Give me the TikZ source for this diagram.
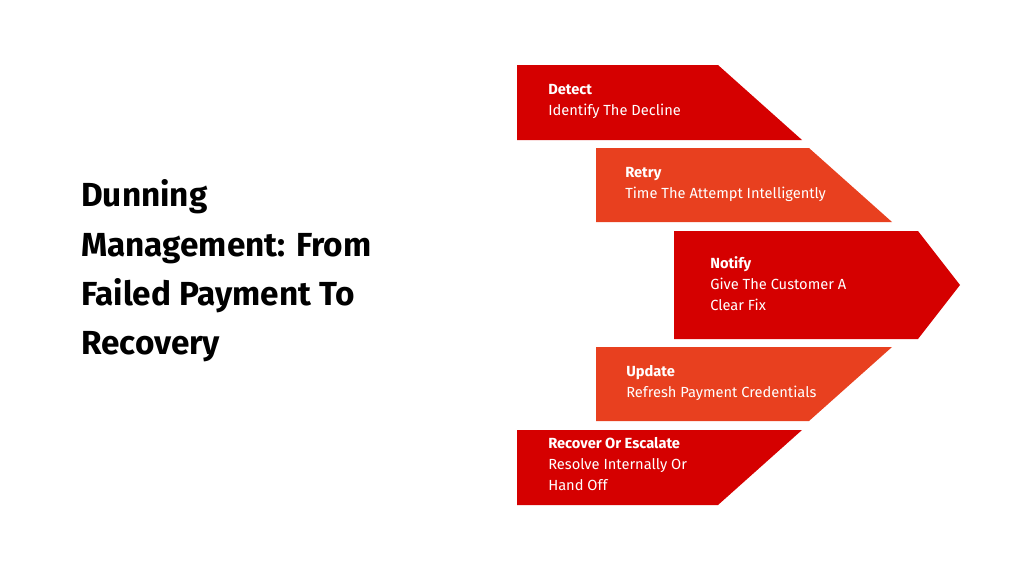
\documentclass[tikz,border=0pt]{standalone}
\usepackage{fontspec}
\setmainfont{Fira Sans}
\usepackage{tikz}
\definecolor{darkred}{HTML}{D50000}
\definecolor{orangered}{HTML}{E8401F}
\begin{document}
\begin{tikzpicture}[x=0.75pt,y=-0.75pt]
\tikzset{phase/.style={inner sep=0pt,anchor=north west,align=left,text=white,font=\fontsize{11pt}{15.8pt}\selectfont},
title/.style={inner sep=0pt,anchor=west,align=left,font=\fontsize{25pt}{37pt}\selectfont\bfseries}}
\useasboundingbox (0,0) rectangle (1012,569);
\fill [darkred] (517,65) -- (718,65) -- (802,140) -- (517,140) -- cycle;
\fill [orangered] (596,148) -- (809,148) -- (892,222) -- (596,222) -- cycle;
\fill [darkred] (674,231) -- (918,231) -- (960,285) -- (918,339) -- (674,339) -- cycle;
\fill [orangered] (596,347) -- (892,347) -- (809,421) -- (596,421) -- cycle;
\fill [darkred] (517,430) -- (802,430) -- (718,505) -- (517,505) -- cycle;
\node [phase] (detect) at (548,84) {\textbf{Detect}\\Identify The Decline};
\node [phase] (retry) at (625,167) {\textbf{Retry}\\Time The Attempt Intelligently};
\node [phase] (notify) at (710,256) {\textbf{Notify}\\Give The Customer A\\Clear Fix};
\node [phase] (update) at (626,365) {\textbf{Update}\\Refresh Payment Credentials};
\node [phase] (recover) at (548,437) {\textbf{Recover Or Escalate}\\Resolve Internally Or\\Hand Off};
\node [title] (heading) at (81,271) {Dunning\\Management: From\\Failed Payment To\\Recovery};
\end{tikzpicture}
\end{document}
